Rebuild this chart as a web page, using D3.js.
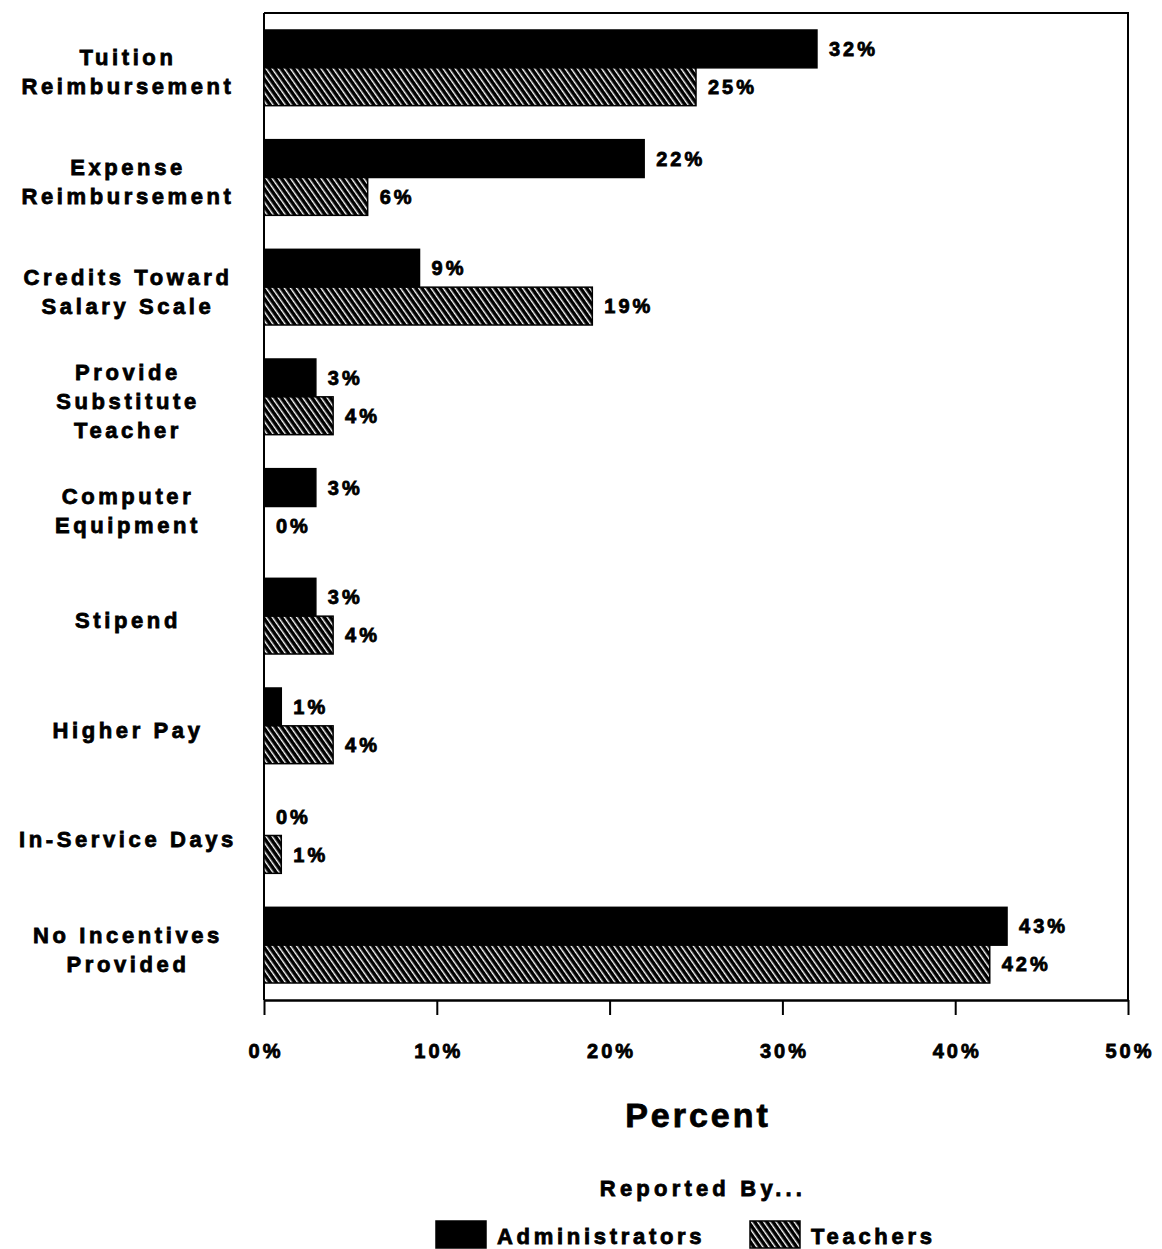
<!DOCTYPE html>
<html>
<head>
<meta charset="utf-8">
<script src="https://cdn.jsdelivr.net/npm/d3@7"></script>
<style>
  html, body { margin: 0; padding: 0; background: #fff; }
  svg { display: block; }
  text { font-family: "Liberation Sans", "DejaVu Sans", sans-serif; font-weight: bold; fill: #000;
         stroke: #000; stroke-width: 0.8px; }
</style>
</head>
<body>
<svg id="chart" width="1162" height="1249"></svg>
<script>
// Incentives offered for participation, by respondent group
const categories = [
  ["Tuition", "Reimbursement"],
  ["Expense", "Reimbursement"],
  ["Credits Toward", "Salary Scale"],
  ["Provide", "Substitute", "Teacher"],
  ["Computer", "Equipment"],
  ["Stipend"],
  ["Higher Pay"],
  ["In-Service Days"],
  ["No Incentives", "Provided"]
];
const administrators = [32, 22, 9, 3, 3, 3, 1, 0, 43];
const teachers = [25, 6, 19, 4, 0, 4, 4, 1, 42];
const seriesNames = ["Administrators", "Teachers"];
const xTicks = [0, 10, 20, 30, 40, 50];

const svg = d3.select("#chart");

const plot = { left: 264, right: 1128, top: 13, bottom: 1000 };

const x = d3.scaleLinear().domain([0, 50]).range([plot.left, plot.right]);
const y = d3.scaleBand()
  .domain(d3.range(categories.length))
  .range([plot.top, plot.bottom])
  .paddingInner(0.31)
  .paddingOuter(0.155);
const ySub = d3.scaleBand().domain(seriesNames).range([0, y.bandwidth()]);

// Diagonal hatch used for the Teachers series
const defs = svg.append("defs");
const pat = defs.append("pattern")
  .attr("id", "hatch")
  .attr("patternUnits", "userSpaceOnUse")
  .attr("width", 5).attr("height", 5)
  .attr("patternTransform", "rotate(-35)");
pat.append("rect").attr("width", 5).attr("height", 5).attr("fill", "#000");
pat.append("rect").attr("x", 0).attr("width", 1.4).attr("height", 5).attr("fill", "#fff");

const fills = { Administrators: "#000", Teachers: "url(#hatch)" };

// Frame: top and right edges
svg.append("path")
  .attr("d", `M${plot.left},${plot.top}H${plot.right}V${plot.bottom}`)
  .attr("fill", "none").attr("stroke", "#000").attr("stroke-width", 2);
// Left axis line
svg.append("line")
  .attr("x1", plot.left).attr("x2", plot.left)
  .attr("y1", plot.top).attr("y2", plot.bottom)
  .attr("stroke", "#000").attr("stroke-width", 2);

// Bottom axis
const xAxis = svg.append("g")
  .attr("transform", `translate(0,${plot.bottom})`)
  .call(d3.axisBottom(x).tickValues(xTicks).tickSize(15).tickSizeOuter(0).tickFormat(d => d + "%"));
xAxis.select(".domain").attr("stroke", "#000").attr("stroke-width", 2.5);
xAxis.selectAll(".tick line").attr("stroke", "#000").attr("stroke-width", 2);
xAxis.selectAll(".tick text")
  .attr("y", 44)
  .attr("dy", "0.71em")
  .attr("dx", "1.5px")
  .style("font-size", "20px")
  .style("letter-spacing", "3px")
  .attr("font-family", null)
  .attr("fill", "#000");

// Bars
const rows = categories.map((c, i) => ({
  i,
  values: [
    { key: "Administrators", v: administrators[i] },
    { key: "Teachers", v: teachers[i] }
  ]
}));

const groups = svg.append("g").selectAll("g")
  .data(rows).join("g")
  .attr("transform", d => `translate(0,${y(d.i)})`);

groups.selectAll("rect")
  .data(d => d.values).join("rect")
  .attr("x", x(0))
  .attr("y", d => ySub(d.key))
  .attr("width", d => x(d.v) - x(0))
  .attr("height", ySub.bandwidth())
  .attr("fill", d => fills[d.key])
  .attr("stroke", d => d.v > 0 ? "#000" : "none")
  .attr("stroke-width", 1.5);

groups.selectAll("text.val")
  .data(d => d.values).join("text")
  .attr("class", "val")
  .attr("x", d => x(d.v) + 12)
  .attr("y", d => ySub(d.key) + ySub.bandwidth() / 2)
  .attr("dy", "0.36em")
  .style("font-size", "20px")
  .style("letter-spacing", "3px")
  .text(d => d.v + "%");

// Category labels
const lineH = 29;
svg.append("g").selectAll("text")
  .data(categories).join("text")
  .attr("text-anchor", "middle")
  .attr("x", 128)
  .attr("y", (d, i) => y(i) + y.bandwidth() / 2 + 4 - (d.length - 1) * lineH / 2)
  .style("font-size", "22px")
  .style("letter-spacing", "3.6px")
  .each(function(d) {
    d3.select(this).selectAll("tspan").data(d).join("tspan")
      .attr("x", 128)
      .attr("dy", (t, k) => k === 0 ? "0.36em" : lineH)
      .text(t => t);
  });

// Axis title
svg.append("text")
  .attr("x", (plot.left + plot.right) / 2 + 2)
  .attr("y", 1127)
  .attr("text-anchor", "middle")
  .style("font-size", "34px")
  .style("letter-spacing", "3px")
  .text("Percent");

// Legend
svg.append("text")
  .attr("x", 703)
  .attr("y", 1196)
  .attr("text-anchor", "middle")
  .style("font-size", "22px")
  .style("letter-spacing", "4.2px")
  .text("Reported By...");

const legendItems = [
  { key: "Administrators", x: 436 },
  { key: "Teachers", x: 750 }
];
const lg = svg.append("g").selectAll("g")
  .data(legendItems).join("g")
  .attr("transform", d => `translate(${d.x},1221)`);
lg.append("rect")
  .attr("width", 50).attr("height", 27)
  .attr("fill", d => fills[d.key])
  .attr("stroke", "#000").attr("stroke-width", 1.5);
lg.append("text")
  .attr("x", 61).attr("y", 23)
  .style("font-size", "22px")
  .style("letter-spacing", "3.7px")
  .text(d => d.key);
</script>
</body>
</html>
